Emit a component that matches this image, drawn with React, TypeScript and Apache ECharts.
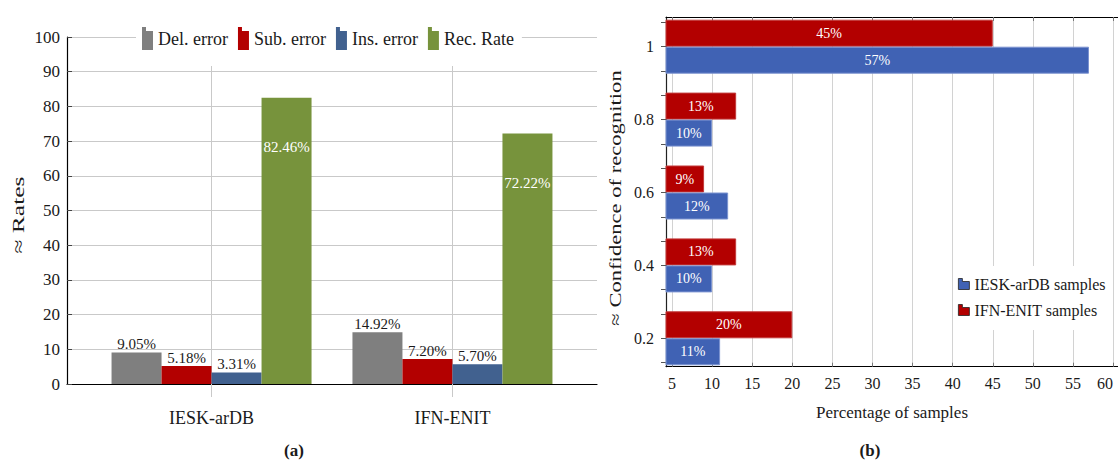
import React, { useEffect, useRef } from "react";
import * as echarts from "echarts";

// Panel (a): error and recognition rates per database
const rateCategories = ["IESK-arDB", "IFN-ENIT"];
const delError = [9.05, 14.92];
const subError = [5.18, 7.2];
const insError = [3.31, 5.7];
const recRate = [82.46, 72.22];

// Panel (b): share of samples per recognition confidence
const confidenceLevels = [0.2, 0.4, 0.6, 0.8, 1];
const iesk = [11, 10, 12, 10, 57];
const ifn = [20, 13, 9, 13, 45];
const percentTicks = [5, 10, 15, 20, 25, 30, 35, 40, 45, 50, 55, 60];
const confidenceTicks = [2, 3, 4, 5, 6, 7, 8, 9, 10, 11, 12, 13, 14, 15, 16].map((k) => k / 15);

const FONT = '"Liberation Serif", "DejaVu Serif", serif';
const INK = "#1a1a1a";
const GRID = "#c9c9c9";

const barIcon = "path://M0,0 H4 V4 H11 V23 H0 Z";
const hbarIcon = "path://M0,0 H4 V3 H11 V11 H0 Z";

export default function App() {
  const ref = useRef<HTMLDivElement>(null);

  useEffect(() => {
    if (!ref.current) return;
    const chart = echarts.init(ref.current, undefined, { renderer: "svg" });

    const rateSeries = (name: string, values: number[], color: string, inside = false) => ({
      type: "bar",
      name,
      xAxisIndex: 0,
      yAxisIndex: 0,
      barWidth: 50,
      barGap: "0%",
      data: rateCategories.map((_, i) => [i, values[i]]),
      itemStyle: { color },
      label: {
        show: true,
        position: inside ? "insideTop" : "top",
        distance: inside ? 42 : 1,
        color: inside ? "#fff" : INK,
        fontFamily: FONT,
        fontSize: 15,
        formatter: (p: any) => p.value[1].toFixed(2) + "%",
      },
    });

    const sampleSeries = (name: string, values: number[], color: string, border: string) => ({
      type: "bar",
      name,
      xAxisIndex: 3,
      yAxisIndex: 2,
      barWidth: 27,
      barGap: "0%",
      data: values,
      itemStyle: { color, borderColor: border, borderWidth: 1 },
      label: {
        show: true,
        position: "inside",
        color: "#fff",
        fontFamily: FONT,
        fontSize: 14,
        formatter: "{c}%",
      },
    });

    chart.setOption({
      animation: false,
      textStyle: { fontFamily: FONT },
      grid: [
        { left: 67, right: 521, top: 37, bottom: 78, outerBoundsMode: "none" },
        { left: 666, right: 0, top: 17, bottom: 95.3, outerBoundsMode: "none" },
        { left: 666, right: 0, top: 10.25, bottom: 87.25, outerBoundsMode: "none" },
      ],
      legend: [
        {
          left: 136,
          top: 18,
          itemWidth: 11,
          itemHeight: 23,
          itemGap: 10,
          backgroundColor: "#fff",
          padding: [9, 8, 16, 6],
          icon: barIcon,
          textStyle: { fontFamily: FONT, fontSize: 18, color: INK },
          data: ["Del. error", "Sub. error", "Ins. error", "Rec. Rate"],
        },
        {
          left: 955,
          top: 266,
          orient: "vertical",
          itemWidth: 11,
          itemHeight: 11,
          itemGap: 10,
          backgroundColor: "#fff",
          padding: [10, 4, 12, 3],
          icon: hbarIcon,
          itemStyle: { borderColor: "#222", borderWidth: 0.8 },
          textStyle: { fontFamily: FONT, fontSize: 16, color: INK },
          data: ["IESK-arDB samples", "IFN-ENIT samples"],
        },
      ],
      xAxis: [
        {
          type: "value",
          gridIndex: 0,
          min: -0.6,
          max: 1.6,
          axisLine: { onZero: false, lineStyle: { color: "#000", width: 1.2 } },
          axisTick: { customValues: [0, 1], length: 13, lineStyle: { color: GRID } },
          axisLabel: {
            customValues: [0, 1],
            formatter: (v: number) => rateCategories[Math.round(v)],
            color: INK,
            fontFamily: FONT,
            fontSize: 18,
            margin: 25,
          },
          splitLine: { show: true, lineStyle: { color: GRID } },
        },
        {
          type: "value",
          gridIndex: 1,
          position: "bottom",
          min: 4.25,
          max: 60.62,
          axisLine: { onZero: false, lineStyle: { color: "#000", width: 1.2 } },
          axisTick: { customValues: percentTicks, inside: true, length: 4, lineStyle: { color: "#777" } },
          axisLabel: {
            customValues: percentTicks,
            color: INK,
            fontFamily: FONT,
            fontSize: 16,
            margin: 9,
            alignMaxLabel: "right",
          },
          splitLine: { show: true, lineStyle: { color: "#d2d2d2" } },
          name: "Percentage of samples",
          nameLocation: "middle",
          nameGap: 37,
          nameTextStyle: { color: INK, fontSize: 17, fontFamily: FONT },
        },
        {
          type: "value",
          gridIndex: 1,
          position: "top",
          min: 4.25,
          max: 60.62,
          axisLine: { onZero: false, lineStyle: { color: "#000", width: 1.2 } },
          axisTick: { customValues: percentTicks, inside: true, length: 4, lineStyle: { color: "#777" } },
          axisLabel: { show: false },
          splitLine: { show: false },
        },
        {
          type: "value",
          gridIndex: 2,
          min: 4.25,
          max: 60.62,
          show: false,
          splitLine: { show: false },
        },
      ],
      yAxis: [
        {
          type: "value",
          gridIndex: 0,
          min: 0,
          max: 100,
          interval: 10,
          axisLine: { show: true, onZero: false, lineStyle: { color: "#000", width: 1.2 } },
          axisTick: { show: true, inside: true, length: 5, lineStyle: { color: "#444" } },
          axisLabel: { color: INK, fontFamily: FONT, fontSize: 17, margin: 7 },
          splitLine: { show: true, lineStyle: { color: GRID } },
        },
        {
          type: "value",
          gridIndex: 1,
          min: 0.122,
          max: 1.0815,
          axisLine: { show: true, onZero: false, lineStyle: { color: "#222", width: 1.2 } },
          axisTick: { show: true, customValues: confidenceTicks, length: 5, lineStyle: { color: "#555" } },
          axisLabel: {
            customValues: confidenceLevels,
            formatter: (v: number) => String(Number(v.toFixed(1))),
            color: INK,
            fontFamily: FONT,
            fontSize: 16,
            margin: 12,
          },
          splitLine: { show: false },
        },
        {
          type: "category",
          gridIndex: 2,
          data: confidenceLevels.map(String),
          show: false,
          splitLine: { show: false },
        },
      ],
      series: [
        rateSeries("Del. error", delError, "#7f7f7f"),
        rateSeries("Sub. error", subError, "#b30000"),
        rateSeries("Ins. error", insError, "#41618f"),
        rateSeries("Rec. Rate", recRate, "#77933c", true),
        sampleSeries("IFN-ENIT samples", ifn, "#b30000", "#c23a3a"),
        sampleSeries("IESK-arDB samples", iesk, "#4062b4", "#7b93d0"),
      ],
      graphic: [
        {
          type: "text",
          x: 19,
          y: 215,
          rotation: Math.PI / 2,
          scaleX: 1.5,
          style: { text: "≈ Rates", font: `17px ${FONT}`, fill: INK, align: "center", verticalAlign: "middle" },
        },
        {
          type: "text",
          x: 615,
          y: 198,
          rotation: Math.PI / 2,
          scaleX: 1.33,
          style: {
            text: "≈ Confidence of recognition",
            font: `17px ${FONT}`,
            fill: INK,
            align: "center",
            verticalAlign: "middle",
          },
        },
        {
          type: "text",
          x: 294,
          y: 450,
          style: { text: "(a)", font: `bold 17px ${FONT}`, fill: INK, align: "center", verticalAlign: "middle" },
        },
        {
          type: "text",
          x: 870,
          y: 450,
          style: { text: "(b)", font: `bold 17px ${FONT}`, fill: INK, align: "center", verticalAlign: "middle" },
        },
      ],
    });

    return () => chart.dispose();
  }, []);

  return <div ref={ref} style={{ width: 1118, height: 462, position: "absolute", left: 0, top: 0, background: "#fff" }} />;
}
